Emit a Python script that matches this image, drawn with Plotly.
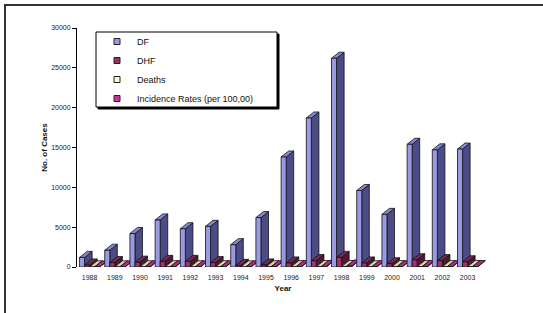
import plotly.graph_objects as go

# ---------------- data ----------------
years = list(range(1988, 2004))
year_labels = [str(y) for y in years]
df_cases = [1200, 2100, 4200, 5900, 4800, 5100, 2800, 6200, 13800, 18700, 26200, 9600, 6600, 15400, 14700, 14800]
dhf_cases = [250, 550, 600, 700, 700, 550, 200, 250, 500, 800, 1200, 500, 400, 900, 800, 650]
deaths = [10, 15, 20, 30, 25, 30, 15, 30, 40, 50, 60, 30, 45, 50, 40, 60]
incidence = [8, 12, 25, 33, 27, 28, 15, 30, 60, 85, 120, 44, 30, 70, 60, 60]
series_names = ["DF", "DHF", "Deaths", "Incidence Rates (per 100,00)"]
series_values = [df_cases, dhf_cases, deaths, incidence]
y_ticks = [0, 5000, 10000, 15000, 20000, 25000, 30000]

# ---------------- style ----------------
legend_colors = ["#9999ee", "#993366", "#ffffcc", "#cc3399"]
front_colors = ["#9a9ae4", "#a0336b", "#ffffcc", "#cc3399"]
top_colors = ["#8686d2", "#7a2952", "#d6d6a6", "#b02c86"]
side_colors = ["#4b4b86", "#4f1a35", "#85855f", "#661a4d"]
bar_w = 0.2      # width of one bar (category units)
depth_x = 0.3    # 3D depth, horizontal (category units)
depth_y = 760    # 3D depth, vertical (value units)
FONT = "Liberation Sans, Arial, sans-serif"

fig = go.Figure()

edge = dict(color="#111111", width=0.8)
for i, yr in enumerate(years):
    for k, vals in enumerate(series_values):
        v = vals[i]
        x0 = yr - 0.4 + k * bar_w
        x1 = x0 + bar_w
        faces = [
            ([x1, x1 + depth_x, x1 + depth_x, x1, x1], [0, depth_y, v + depth_y, v, 0], side_colors[k]),
            ([x0, x1, x1 + depth_x, x0 + depth_x, x0], [v, v, v + depth_y, v + depth_y, v], top_colors[k]),
            ([x0, x1, x1, x0, x0], [0, 0, v, v, 0], front_colors[k]),
        ]
        for fx, fy, col in faces:
            fig.add_trace(go.Scatter(
                x=fx, y=fy, mode="lines", fill="toself", fillcolor=col,
                line=edge, showlegend=False, hoverinfo="skip",
                cliponaxis=False,
            ))

# legend entries
for name, col in zip(series_names, legend_colors):
    fig.add_trace(go.Scatter(
        x=[None], y=[None], mode="markers", name=name,
        marker=dict(symbol="square", size=6, color=col, line=dict(color="#222222", width=1)),
    ))

# plot-area geometry helpers (pixels -> paper)
L, R, T, B = 77, 54, 28, 46
W = 543 - L - R
H = 313 - T - B
def px(x):
    return (x - L) / W
def py(y):
    return (313 - B - y) / H

shapes = [
    # outer frame
    dict(type="rect", xref="paper", yref="paper", x0=px(5), x1=px(560), y0=py(330), y1=py(5),
         line=dict(color="#333333", width=2), fillcolor="rgba(0,0,0,0)", layer="below"),
    # legend shadow + box
    dict(type="rect", xref="paper", yref="paper", x0=px(98), x1=px(279), y0=py(109), y1=py(34),
         line=dict(color="#000000", width=1), fillcolor="#000000", layer="above"),
    dict(type="rect", xref="paper", yref="paper", x0=px(96), x1=px(277), y0=py(107), y1=py(32),
         line=dict(color="#000000", width=1), fillcolor="#ffffff", layer="above"),
]

fig.update_layout(
    width=543, height=313,
    margin=dict(l=L, r=R, t=T, b=B),
    paper_bgcolor="white", plot_bgcolor="white",
    font=dict(family=FONT, color="#222222"),
    shapes=shapes,
    showlegend=True,
    legend=dict(
        x=px(97), y=py(27), xanchor="left", yanchor="top",
        bgcolor="rgba(0,0,0,0)", borderwidth=0,
        font=dict(family=FONT, size=9, color="#111111"),
        tracegroupgap=0,
    ),
    xaxis=dict(
        range=[1987.5, 2003.85], tickmode="array", tickvals=years, ticktext=year_labels,
        showgrid=False, zeroline=False, showline=False,
        ticks="outside", ticklen=4, tickcolor="rgba(0,0,0,0)",
        tickfont=dict(size=7, color="#222222"),
        title=dict(text="Year", font=dict(size=8, weight="bold", color="#111111"), standoff=4),
    ),
    yaxis=dict(
        range=[0, 30000], tickmode="array", tickvals=y_ticks, ticktext=[str(t) for t in y_ticks],
        showgrid=False, zeroline=False, showline=True, linecolor="#000000", linewidth=1,
        ticks="outside", ticklen=4, tickcolor="#000000",
        tickfont=dict(size=7, color="#222222"),
        title=dict(text="No. of Cases", font=dict(size=8, weight="bold", color="#111111"), standoff=2),
    ),
)

fig.write_html("out.html", config={"displayModeBar": False},
               post_script="document.body.style.margin='0px';")
